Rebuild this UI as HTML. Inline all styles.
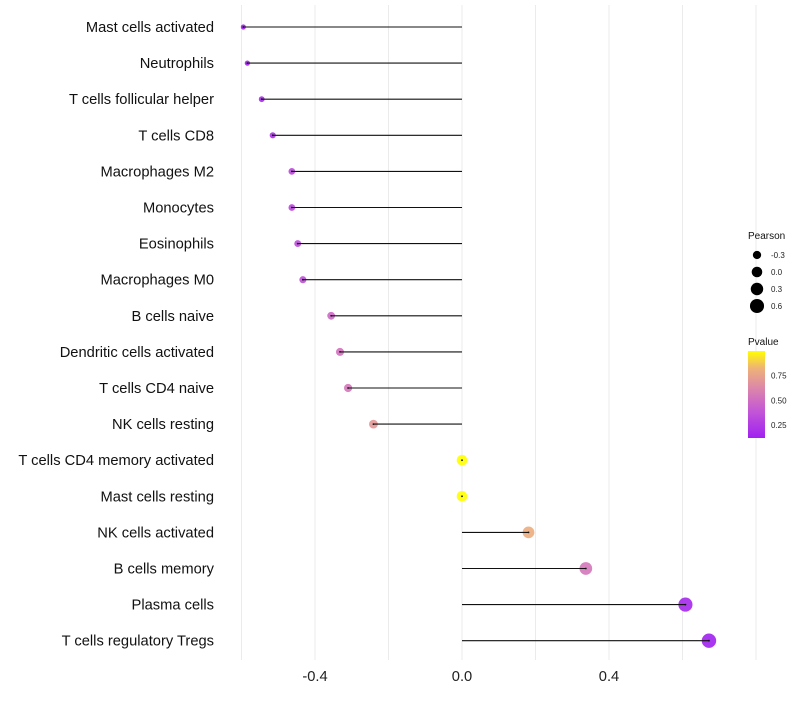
<!DOCTYPE html>
<html><head><meta charset="utf-8"><style>
body{margin:0;background:#fff;font-family:"Liberation Sans",sans-serif}
svg text{font-family:"Liberation Sans",sans-serif}
</style></head><body>
<svg id="chart" width="800" height="700"></svg>
<script>
const categories=["Mast cells activated","Neutrophils","T cells follicular helper","T cells CD8","Macrophages M2","Monocytes","Eosinophils","Macrophages M0","B cells naive","Dendritic cells activated","T cells CD4 naive","NK cells resting","T cells CD4 memory activated","Mast cells resting","NK cells activated","B cells memory","Plasma cells","T cells regulatory  Tregs"];
const pearson=[-0.595,-0.584,-0.545,-0.515,-0.463,-0.463,-0.447,-0.433,-0.356,-0.332,-0.31,-0.241,0,0,0.181,0.337,0.608,0.672];
const pvalues=[0.12,0.14,0.18,0.22,0.32,0.32,0.34,0.36,0.48,0.52,0.55,0.7,1.0,1.0,0.8,0.55,0.16,0.12];
const xTicks=[-0.4,0.0,0.4];
const xGrid=[-0.6,-0.4,-0.2,0,0.2,0.4,0.6,0.8];
const sizeLegend=[-0.3,0.0,0.3,0.6];
const colorTicks=[0.25,0.5,0.75];
const NS="http://www.w3.org/2000/svg";
const svg=document.getElementById('chart');
const X=v=>462+v*367.5;
const Y=i=>27+i*36.1;
const R=v=>Math.sqrt(Math.max(2,28+36*v));
function col(p){const stops=[[0,[160,32,240]],[0.3,[195,85,215]],[0.55,[218,130,175]],[0.8,[238,178,120]],[1,[255,255,0]]];
 const t=Math.max(0,Math.min(1,(p-0.12)/(1-0.12)));
 for(let i=1;i<stops.length;i++){if(t<=stops[i][0]){const a=stops[i-1],b=stops[i];const f=(t-a[0])/(b[0]-a[0]);return 'rgb('+a[1].map((c,k)=>Math.round(c+(b[1][k]-c)*f)).join(',')+')';}}
 return 'rgb(255,255,0)';}
function el(t,a){const e=document.createElementNS(NS,t);for(const k in a)e.setAttribute(k,a[k]);svg.appendChild(e);return e;}
xGrid.forEach(v=>{const g=el('line',{x1:X(v),x2:X(v),y1:5,y2:660,stroke:'#ebebeb','stroke-width':1});

});
xTicks.forEach(v=>{const t=el('text',{x:X(v),y:681,'text-anchor':'middle','font-size':14.7,fill:'#222'});t.textContent=v.toFixed(1);

});
categories.forEach((c,i)=>{
 const t=el('text',{x:214,y:Y(i)+5,'text-anchor':'end','font-size':14.7,fill:'#111','xml:space':'preserve'});t.textContent=c;
 
 
 const p=el('circle',{cx:X(pearson[i]),cy:Y(i),r:R(pearson[i]),fill:col(pvalues[i]),'fill-opacity':0.9});
 
 
 const l=el('line',{x1:X(0),x2:X(pearson[i]),y1:Y(i),y2:Y(i),stroke:'#111','stroke-width':1.1});
 
 
 const d=el('circle',{cx:X(pearson[i]),cy:Y(i),r:0.9,fill:'#111'});
 
 
});
let t=el('text',{x:748,y:239,'font-size':10,fill:'#111'});t.textContent='Pearson';


sizeLegend.forEach((v,i)=>{const y=255+i*17;
 const c=el('circle',{cx:757,cy:y,r:R(v),fill:'#000'});
 
 
 const tt=el('text',{x:771,y:y+3,'font-size':8,fill:'#222'});tt.textContent=v.toFixed(1);
 
 });
t=el('text',{x:748,y:345,'font-size':10,fill:'#111'});t.textContent='Pvalue';


const defs=el('defs',{});const lg=document.createElementNS(NS,'linearGradient');lg.setAttribute('id','pg');lg.setAttribute('x1',0);lg.setAttribute('y1',1);lg.setAttribute('x2',0);lg.setAttribute('y2',0);defs.appendChild(lg);
for(let k=0;k<=10;k++){const p=0.12+k*0.088;const s=document.createElementNS(NS,'stop');s.setAttribute('offset',k/10);s.setAttribute('stop-color',col(p));lg.appendChild(s);}
const bar=el('rect',{x:748,y:351,width:17,height:87,fill:'url(#pg)'});


colorTicks.forEach(v=>{const y=351+(1-v)*98.5;
 const tt=el('text',{x:771,y:y+3,'font-size':8,fill:'#222'});tt.textContent=v.toFixed(2);
 
 });
</script>
</body></html>
